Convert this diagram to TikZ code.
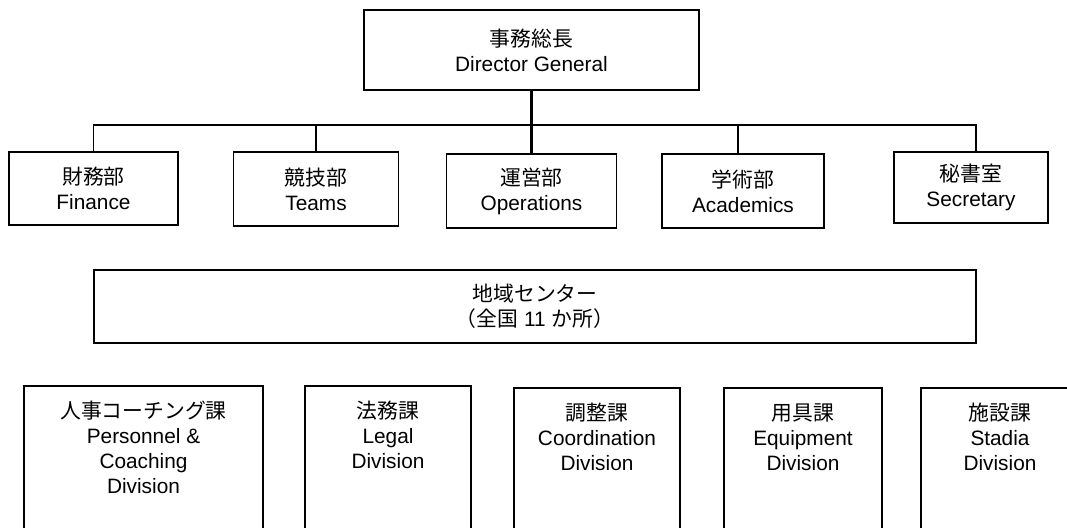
\documentclass[tikz,border=0pt]{standalone}
\usepackage{fontspec}
\setmainfont{Liberation Sans}
\newfontfamily\jp{Noto Sans CJK JP}
\usetikzlibrary{positioning}
\tikzset{
  unit/.style={draw, line width=1pt, inner sep=0pt, outer sep=0pt, align=center,
    font=\fontsize{14.8}{17.8}\selectfont},
  divbox/.style={unit, minimum height=4cm, anchor=north},
  divtext/.style={inner sep=0pt, align=center, anchor=north,
    font=\fontsize{14.8}{17.8}\selectfont},
  link/.style={line width=1.1pt}
}
\begin{document}
\begin{tikzpicture}[x=0.025cm,y=-0.025cm]
\useasboundingbox (0,0) rectangle (1067,527);
\clip (0,0) rectangle (1067,527);

\node[unit, minimum width=8.375cm, minimum height=2cm] (dg) at (531.5,50) {{\jp 事務総長}\\Director General};

\node[unit, minimum width=4.225cm, minimum height=1.825cm] (fin) at (93.5,188.5) {{\jp 財務部}\\Finance};
\node[unit, minimum width=4.125cm, minimum height=1.85cm] (teams) at (316,189) {{\jp 競技部}\\Teams};
\node[unit, minimum width=4.25cm, minimum height=1.85cm] (ops) at (531.5,191) {{\jp 運営部}\\Operations};
\node[unit, minimum width=4.05cm, minimum height=1.85cm] (acad) at (743,191) {{\jp 学術部}\\Academics};
\node[unit, minimum width=3.85cm, minimum height=1.775cm] (sec) at (971,187.5) {{\jp 秘書室}\\Secretary};

\coordinate (bus) at (531.5,125);
\draw[link, line width=1.6pt] (dg.south) -- (ops.north);
\draw[link] (fin.north) |- (bus) -| ([xshift=0.125cm]sec.north);
\draw[link] (teams.north) -- (teams.north |- bus);
\draw[link] ([xshift=-0.13cm]acad.north) -- ([xshift=-0.13cm]acad.north |- bus);

\node[unit, minimum width=22.05cm, minimum height=1.825cm] (region) at (535,306.5) {{\jp 地域センター}\\{\jp （全国} 11 {\jp か所）}};

\node[divbox, minimum width=5.975cm] (pers) at (143.5,386) {};
\node[divbox, minimum width=4.15cm] (legal) at (388,386) {};
\node[divbox, minimum width=4.15cm] (coord) at (597,388) {};
\node[divbox, minimum width=3.94cm] (equip) at (803,388) {};
\node[divbox, minimum width=3.95cm] (stad) at (1000,388) {};

\node[divtext, below=0.375cm of pers.north] (perstxt) {{\jp 人事コーチング課}\\Personnel \&\\Coaching\\Division};
\node[divtext, below=0.375cm of legal.north] (legaltxt) {{\jp 法務課}\\Legal\\Division};
\node[divtext, below=0.375cm of coord.north] (coordtxt) {{\jp 調整課}\\Coordination\\Division};
\node[divtext, below=0.375cm of equip.north] (equiptxt) {{\jp 用具課}\\Equipment\\Division};
\node[divtext, below=0.375cm of stad.north] (stadtxt) {{\jp 施設課}\\Stadia\\Division};
\end{tikzpicture}
\end{document}
